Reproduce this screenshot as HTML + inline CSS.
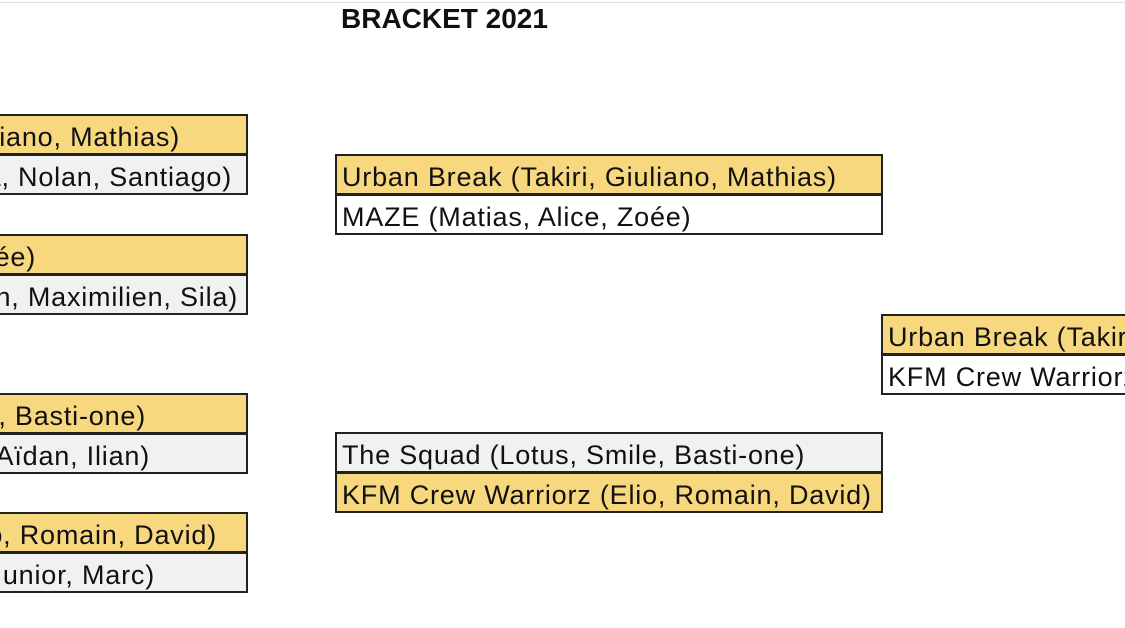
<!DOCTYPE html>
<html><head><meta charset="utf-8"><style>
body{margin:0;width:1125px;height:628px;background:#fff;position:relative;overflow:hidden;font-family:"Liberation Sans",Arial,sans-serif;}
.c{position:absolute;box-sizing:border-box;border:2px solid #222;height:41px;font-size:27px;letter-spacing:0.8px;line-height:42px;white-space:nowrap;overflow:hidden;color:#111;}
.y{background:#f8d87e;}
.g{background:#f1f1f1;}
.w{background:#fff;}
.l{left:-10px;width:258px;}
.l span{position:absolute;top:0;}
.m{left:335px;width:548px;padding-left:5px;}
.r{left:881px;width:260px;padding-left:5px;}
</style></head><body>
<div style="position:absolute;left:0;top:2px;width:1125px;height:1px;background:#ddd"></div>
<div style="position:absolute;left:341px;top:3px;font-size:28px;font-weight:bold;color:#111">BRACKET 2021</div>

<div class="c y l" style="top:114px"><span style="right:66px">iano, Mathias)</span></div>
<div class="c g l" style="top:154px"><span style="right:14px">a, Nolan, Santiago)</span></div>
<div class="c y l" style="top:234px"><span style="right:210px">ée)</span></div>
<div class="c g l" style="top:274px"><span style="right:8px">n, Maximilien, Sila)</span></div>
<div class="c y l" style="top:393px"><span style="right:100px">, Basti-one)</span></div>
<div class="c g l" style="top:433px"><span style="right:96px">Aïdan, Ilian)</span></div>
<div class="c y l" style="top:512px"><span style="right:29px">o, Romain, David)</span></div>
<div class="c g l" style="top:552px"><span style="right:91px">unior, Marc)</span></div>

<div class="c y m" style="top:154px">Urban Break (Takiri, Giuliano, Mathias)</div>
<div class="c w m" style="top:194px">MAZE (Matias, Alice, Zoée)</div>
<div class="c g m" style="top:432px">The Squad (Lotus, Smile, Basti-one)</div>
<div class="c y m" style="top:472px">KFM Crew Warriorz (Elio, Romain, David)</div>

<div class="c y r" style="top:314px">Urban Break (Takiri, Giuliano, Mathias)</div>
<div class="c w r" style="top:354px">KFM Crew Warriorz (Elio, Romain, David)</div>
</body></html>
